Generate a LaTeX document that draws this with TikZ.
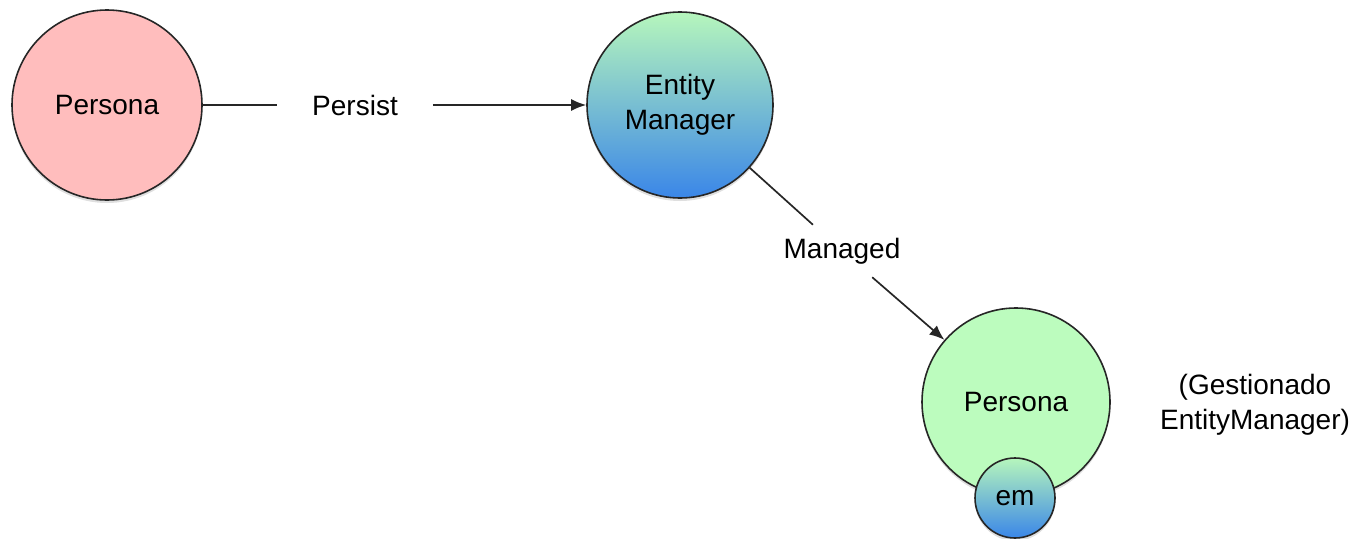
\documentclass[tikz,border=0pt]{standalone}
\usepackage{fontspec}
\setmainfont{Liberation Sans}
\usetikzlibrary{arrows.meta,shadows}
\definecolor{pinkfill}{HTML}{FFBDBD}
\definecolor{greenfill}{HTML}{BCFCBE}
\definecolor{gradtop}{HTML}{B6F6BC}
\definecolor{gradbot}{HTML}{3A86E8}
\definecolor{edgegray}{HTML}{262626}
\tikzset{
  x=1pt, y=-1pt,
  every node/.style={font=\fontsize{28}{35}\selectfont, text=black},
  ball/.style={circle, draw=edgegray, line width=1.6pt, inner sep=0pt,
    drop shadow={opacity=0.25, shadow xshift=0pt, shadow yshift=-3pt}},
  gradball/.style={ball, top color=gradtop, bottom color=gradbot, shading angle=0},
  edgelabel/.style={inner xsep=35pt, inner ysep=13pt},
  conn/.style={draw=edgegray, line width=1.7pt},
  arr/.style={conn, -{Latex[length=15pt,width=12pt]}}
}
\begin{document}
\begin{tikzpicture}
\useasboundingbox (0,0) rectangle (1359,538);
\node[ball, fill=pinkfill, minimum size=190pt] (p1) at (107,105) {Persona};
\node[gradball, minimum size=186pt, align=center] (em) at (680,105) {Entity\\Manager};
\node[ball, fill=greenfill, minimum size=188pt] (p2) at (1016,402) {Persona};
\node[gradball, minimum size=80pt] (emsmall) at (1015,498) {em};
\node[edgelabel] (persist) at (355,105) {Persist};
\node[edgelabel] (managed) at (842,251) {Managed};
\node[align=center] (note) at (1255,405) {(Gestionado\\EntityManager)};
\draw[conn] (p1) -- (persist);
\draw[arr] (persist) -- (em);
\draw[conn] (em) -- (managed);
\draw[arr] (managed) -- (p2);
\end{tikzpicture}
\end{document}
